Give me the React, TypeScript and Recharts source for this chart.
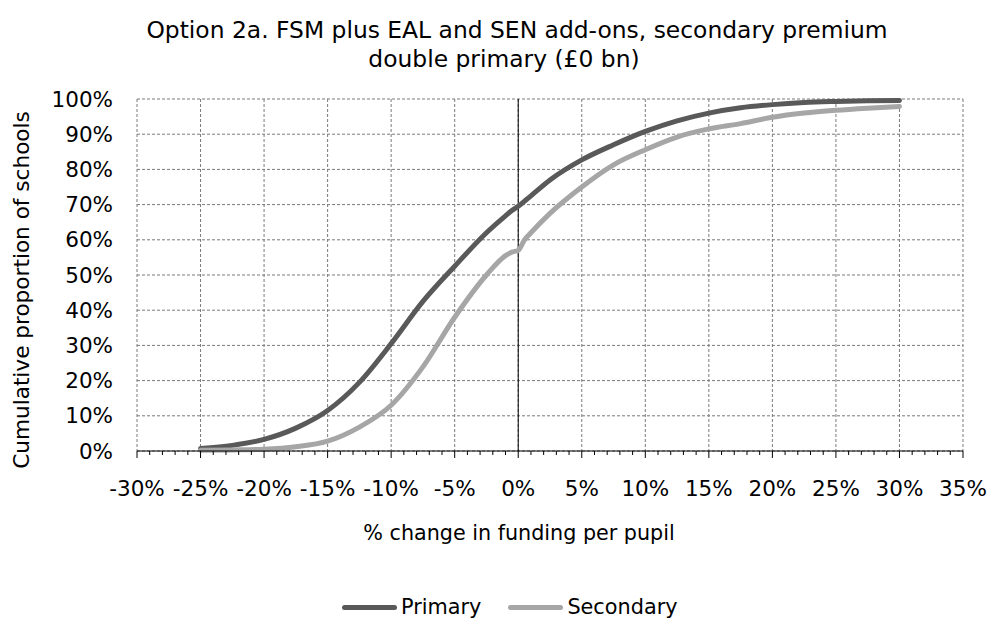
import { LineChart, Line, XAxis, YAxis, CartesianGrid, ReferenceLine, Legend, Label } from "recharts";

// % change in funding per pupil (x positions)
const changePct = [-25, -22.5, -20, -17.5, -15, -12.5, -10, -7.5, -5, -2.5, -1, -0.5, 0, 0.5, 1, 2.5, 5, 7.5, 10, 12.5, 15, 17.5, 20, 22.5, 25, 27.5, 30];

// cumulative proportion of schools (%)
const primary = [0.7, 1.6, 3.3, 6.5, 11.5, 19.5, 30.5, 42.5, 52.5, 62, 66.8, 68.3, 69.5, 71, 72.5, 77, 82.7, 87, 90.8, 93.8, 96, 97.5, 98.4, 99, 99.3, 99.5, 99.6];
const secondary = [0.2, 0.3, 0.5, 1.2, 2.8, 6.8, 13, 23.9, 38, 50, 55.5, 56.5, 57, 60, 62, 67.5, 75, 81.3, 85.6, 89.2, 91.5, 93, 94.8, 96, 96.8, 97.4, 97.9];

const majorTicks = [-30, -25, -20, -15, -10, -5, 0, 5, 10, 15, 20, 25, 30, 35];
const minorTicks = Array.from({ length: 66 }, (_, i) => i - 30);
const yTicks = [0, 10, 20, 30, 40, 50, 60, 70, 80, 90, 100];

const data = changePct.map((x, i) => ({ x, primary: primary[i], secondary: secondary[i] }));

const FONT = "'DejaVu Sans', sans-serif";

const XTick = (props: any) => {
  const { x, y, payload } = props;
  const v = payload.value;
  const major = v % 5 === 0;
  return (
    <g>
      <line x1={x} y1={y} x2={x} y2={y + (major ? 7 : 4)} stroke="#000" strokeWidth={1} />
      {major && (
        <text x={x} y={y + 45} textAnchor="middle" fontSize={21.5} fill="#000" fontFamily={FONT}>
          {v}%
        </text>
      )}
    </g>
  );
};

const renderLegend = (props: any) => (
  <div style={{ display: "flex", height: 40, boxSizing: "border-box", paddingTop: 16, paddingLeft: 342, fontFamily: FONT, fontSize: 20.8, lineHeight: "24px" }}>
    {props.payload.map((p: any) => (
      <div key={p.value} style={{ display: "flex", alignItems: "center", marginRight: 27 }}>
        <span style={{ display: "inline-block", width: 55, height: 5, borderRadius: 3, background: p.color, marginRight: 4 }} />
        <span style={{ color: "#000" }}>{p.value}</span>
      </div>
    ))}
  </div>
);

export default function App() {
  return (
    <div style={{ position: "absolute", left: 0, top: 0, width: 989, height: 619, background: "#fff", fontFamily: FONT }}>
      <div style={{ position: "absolute", top: 16, left: 0, width: 1034, textAlign: "center", fontSize: 23.4, lineHeight: "28.7px", color: "#000" }}>
        Option 2a. FSM plus EAL and SEN add-ons, secondary premium
        <br />
        <span style={{ position: "relative", left: -13 }}>double primary (£0 bn)</span>
      </div>
      <LineChart width={989} height={619} data={data} margin={{ top: 99, right: 26, left: 0, bottom: 0 }}>
        <CartesianGrid stroke="#7a7a7a" strokeDasharray="3 2" horizontalValues={yTicks} verticalValues={majorTicks} />
        <XAxis
          dataKey="x"
          type="number"
          domain={[-30, 35]}
          ticks={minorTicks}
          interval={0}
          tickSize={0}
          tickMargin={0}
          tick={<XTick />}
          tickLine={false}
          axisLine={{ stroke: "#000" }}
          height={128}
        >
          <Label
            content={() => (
              <text x={519} y={540} textAnchor="middle" fontSize={20.7} fill="#000" fontFamily={FONT}>
                % change in funding per pupil
              </text>
            )}
          />
        </XAxis>
        <YAxis
          type="number"
          domain={[0, 100]}
          ticks={yTicks}
          interval={0}
          width={137}
          tickSize={0}
          tickMargin={24}
          axisLine={false}
          tickLine={false}
          tickFormatter={(v: number) => `${v}%`}
          tick={{ fontSize: 21.5, fill: "#000", fontFamily: FONT }}
        >
          <Label
            content={() => (
              <text x={29} y={290} transform="rotate(-90 29 290)" textAnchor="middle" fontSize={21.6} fill="#000" fontFamily={FONT}>
                Cumulative proportion of schools
              </text>
            )}
          />
        </YAxis>
        <ReferenceLine x={0} stroke="#000" strokeWidth={1} />
        <Line
          type="monotone"
          dataKey="primary"
          name="Primary"
          stroke="#595959"
          strokeWidth={5}
          strokeLinecap="round"
          dot={false}
          isAnimationActive={false}
        />
        <Line
          type="monotone"
          dataKey="secondary"
          name="Secondary"
          stroke="#a6a6a6"
          strokeWidth={5}
          strokeLinecap="round"
          dot={false}
          isAnimationActive={false}
        />
        <Legend verticalAlign="bottom" content={renderLegend} wrapperStyle={{ left: 0, width: 989 }} />
      </LineChart>
    </div>
  );
}
